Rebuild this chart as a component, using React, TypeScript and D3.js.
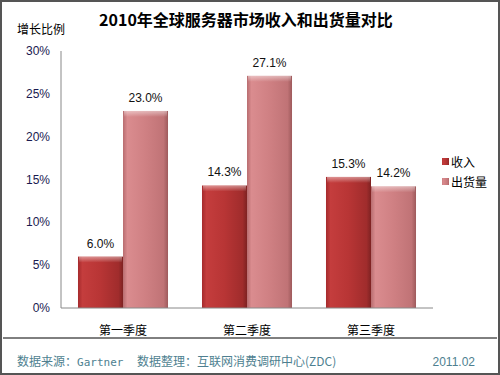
import React from "react";
import * as d3 from "d3";

const categories = ["第一季度", "第二季度", "第三季度"];
const seriesNames = ["收入", "出货量"];
const revenue = [6.0, 14.3, 15.3];
const shipments = [23.0, 27.1, 14.2];
const yTicks = [0, 5, 10, 15, 20, 25, 30];

const W = 500, H = 375;
const plot = { left: 61, right: 433, top: 51, bottom: 308 };

export default function App() {
  const x = d3.scaleBand().domain(categories).range([plot.left, plot.right]).paddingInner(0.274).paddingOuter(0.137);
  const y = d3.scaleLinear().domain([0, 30]).range([plot.bottom, plot.top]);
  const xs = d3.scaleBand().domain(seriesNames).range([0, x.bandwidth()]);
  const series = [revenue, shipments];
  const grads = ["gRev", "gShip"];
  const font = "Arial, 'Liberation Sans', 'Noto Sans CJK SC', sans-serif";
  const cjk = "'Noto Sans CJK SC', sans-serif";
  return (
    <svg width={W} height={H} style={{ position: "absolute", left: 0, top: 0 }} fontFamily={font}>
      <defs>
        <linearGradient id="gRev" x1="0" x2="1" y1="0" y2="0">
          <stop offset="0" stopColor="#a52a2c" />
          <stop offset="0.1" stopColor="#c43d3d" />
          <stop offset="0.5" stopColor="#b83535" />
          <stop offset="0.9" stopColor="#a02c2c" />
          <stop offset="1" stopColor="#7e2222" />
        </linearGradient>
        <linearGradient id="gShip" x1="0" x2="1" y1="0" y2="0">
          <stop offset="0" stopColor="#b86d70" />
          <stop offset="0.1" stopColor="#da8c8f" />
          <stop offset="0.5" stopColor="#cf8083" />
          <stop offset="0.9" stopColor="#c07376" />
          <stop offset="1" stopColor="#9e5a5c" />
        </linearGradient>
        <linearGradient id="gTop" x1="0" x2="0" y1="0" y2="1">
          <stop offset="0" stopColor="#fff" stopOpacity="0.45" />
          <stop offset="1" stopColor="#fff" stopOpacity="0" />
        </linearGradient>
      </defs>
      <rect x={1} y={1} width={W - 2} height={H - 2} fill="#fff" stroke="#555" strokeWidth={2} />
      <text x={246} y={26} textAnchor="middle" fontSize={16} fontWeight="bold" fontFamily={cjk} fill="#000">2010年全球服务器市场收入和出货量对比</text>
      <text x={17} y={34} fontSize={12} fontFamily={cjk} fill="#000">增长比例</text>
      {yTicks.map((t) => (
        <text key={t} x={50} y={y(t) + 4} textAnchor="end" fontSize={12} fill="#1a1a50">{t}%</text>
      ))}
      {categories.map((c, i) =>
        series.map((s, j) => {
          const bx = (x(c) as number) + (xs(seriesNames[j]) as number);
          const bw = xs.bandwidth();
          const top = y(s[i]);
          const h = plot.bottom - top;
          return (
            <g key={c + j}>
              <rect x={bx} y={top} width={bw} height={h} fill={`url(#${grads[j]})`} />
              <rect x={bx + 1} y={top} width={bw - 2} height={Math.min(6, h)} fill="url(#gTop)" />
              <text x={bx + bw / 2} y={top - 9} textAnchor="middle" fontSize={12} fill="#111">{s[i].toFixed(1)}%</text>
            </g>
          );
        })
      )}
      <line x1={plot.left} x2={plot.left} y1={plot.top} y2={plot.bottom} stroke="#888" />
      <line x1={plot.left} x2={plot.right} y1={plot.bottom} y2={plot.bottom} stroke="#888" />
      {categories.map((c) => (
        <text key={c} x={(x(c) as number) + x.bandwidth() / 2} y={335} textAnchor="middle" fontSize={12} fontFamily={cjk} fill="#000">{c}</text>
      ))}
      {seriesNames.map((n, j) => (
        <g key={n}>
          <rect x={442} y={158 + j * 20} width={7} height={7} fill={`url(#${grads[j]})`} />
          <text x={451} y={167 + j * 20} fontSize={12} fontFamily={cjk} fill="#000">{n}</text>
        </g>
      ))}
      <line x1={3} x2={497} y1={338} y2={338} stroke="#000" strokeWidth={1} />
      <text x={17} y={366} fontSize={12} fontFamily={cjk} fill="#4e7f90">数据来源：<tspan fontFamily="'DejaVu Sans Mono', monospace" fontSize={11}>Gartner</tspan></text>
      <text x={137} y={366} fontSize={12} fontFamily={cjk} fill="#4e7f90">数据整理：互联网消费调研中心(ZDC)</text>
      <text x={475} y={366} textAnchor="end" fontSize={12} fill="#4e7f90">2011.02</text>
    </svg>
  );
}
